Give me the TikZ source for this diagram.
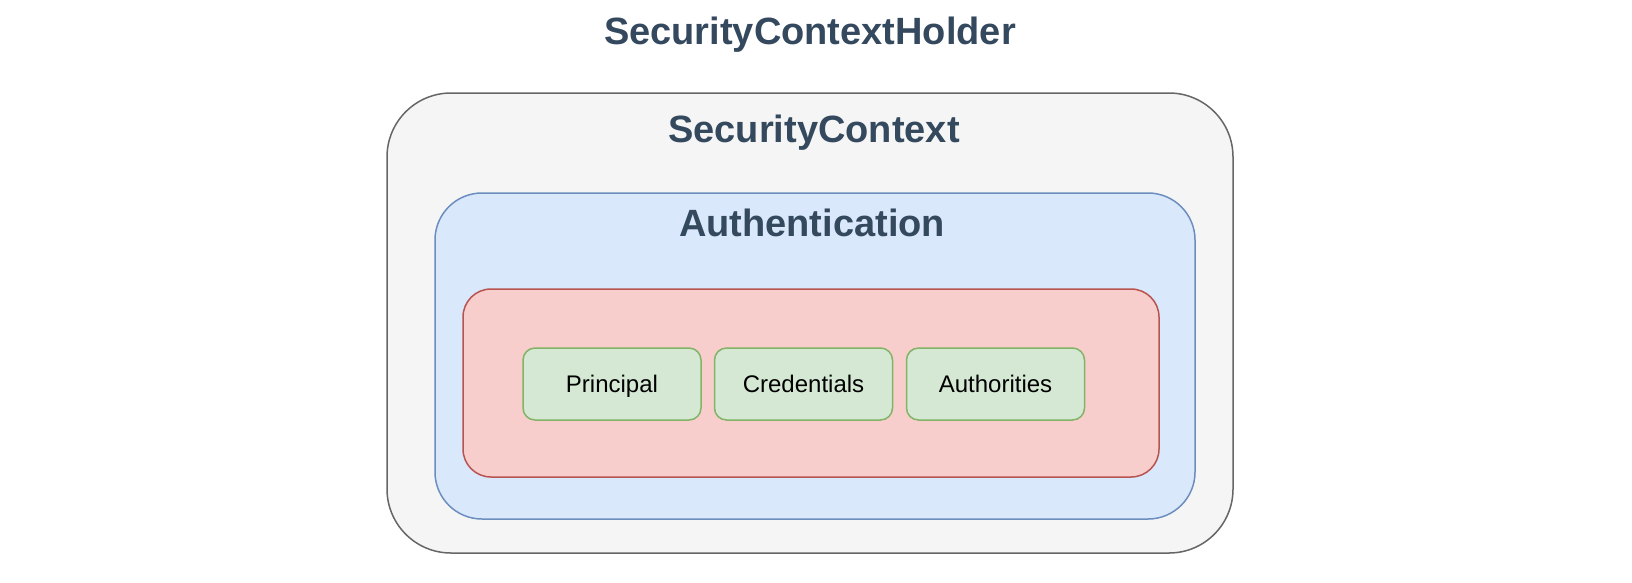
\documentclass[tikz,border=0pt]{standalone}
\usepackage{fontspec}
\setmainfont{Liberation Sans}
\usetikzlibrary{shapes}

\definecolor{titlecol}{HTML}{34495E}
\definecolor{ctxfill}{HTML}{F5F5F5}
\definecolor{ctxline}{HTML}{666666}
\definecolor{authfill}{HTML}{DAE8FC}
\definecolor{authline}{HTML}{6C8EBF}
\definecolor{detfill}{HTML}{F8CECC}
\definecolor{detline}{HTML}{B85450}
\definecolor{partfill}{HTML}{D5E8D4}
\definecolor{partline}{HTML}{82B366}

\tikzset{
  layerbox/.style={shape=rectangle,line width=1.5pt,inner sep=0pt},
  heading/.style={anchor=base,inner sep=0pt,text=titlecol,font=\fontsize{38}{40}\selectfont\bfseries},
  partbox/.style={shape=rectangle,draw=partline,fill=partfill,rounded corners=12pt,line width=1.5pt,
    minimum width=178pt,minimum height=72pt,text height=17pt,text depth=0pt,align=center,font=\fontsize{24}{26}\selectfont}
}

\begin{document}
\begin{tikzpicture}[x=1pt,y=-1pt]
\useasboundingbox (0,0) rectangle (1632,582);
\node[layerbox,draw=ctxline,fill=ctxfill,rounded corners=64pt,minimum width=846pt,minimum height=460pt] (ctx) at (810,323) {};
\node[layerbox,draw=authline,fill=authfill,rounded corners=47pt,minimum width=760pt,minimum height=326pt] (auth) at (815,356) {};
\node[layerbox,draw=detline,fill=detfill,rounded corners=28pt,minimum width=696pt,minimum height=188pt] (det) at (811,383) {};

\node[heading] (holderlabel) at (810,44) {SecurityContextHolder};
\node[heading] (ctxlabel) at (814,142) {SecurityContext};
\node[heading] (authlabel) at (812,236) {Authentication};

\node[partbox] (principal) at (612,384) {Principal};
\node[partbox] (credentials) at (803.5,384) {Credentials};
\node[partbox] (authorities) at (995.5,384) {Authorities};

\end{tikzpicture}
\end{document}
